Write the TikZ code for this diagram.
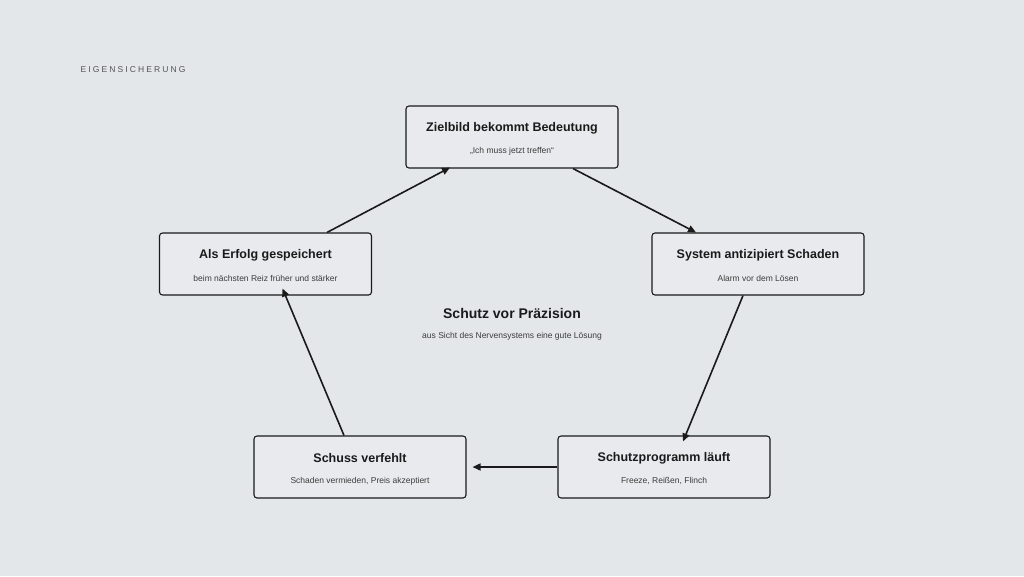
\documentclass[tikz,border=0pt]{standalone}
\usepackage{fontspec}
\setmainfont{Liberation Sans}
\usetikzlibrary{calc,arrows.meta}
\definecolor{bg}{HTML}{E4E7EA}
\definecolor{boxfill}{HTML}{E8EAED}
\definecolor{ink}{HTML}{1A1A1A}
\begin{document}
\begin{tikzpicture}[x=1pt,y=-1pt,
  box/.style={draw=ink,line width=1.1pt,fill=boxfill,rounded corners=3pt,minimum width=212pt,minimum height=62pt,inner sep=0pt},
  ttl/.style={font=\bfseries\fontsize{12.5}{14}\selectfont,text=ink},
  sub/.style={font=\fontsize{8.5}{10}\selectfont,text=ink!85},
  arr/.style={draw=ink,line width=1.6pt,-{Triangle[length=8pt,width=7pt]}}]
\fill[bg] (0,0) rectangle (1024,576);
\useasboundingbox (0,0) rectangle (1024,576);
\node[anchor=west,font=\fontsize{8.5}{10}\selectfont,text=ink!75] (hd) at (77,70) {\addfontfeature{LetterSpace=25}EIGENSICHERUNG};
\node[box] (t) at (512,137) {};
\node[box] (r) at (758,264) {};
\node[box] (br) at (664,467) {};
\node[box] (bl) at (360,467) {};
\node[box] (l) at (265.5,264) {};
\foreach \n/\a/\b in {t/Zielbild bekommt Bedeutung/„Ich muss jetzt treffen“,r/System antizipiert Schaden/Alarm vor dem Lösen,br/Schutzprogramm läuft/{Freeze, Reißen, Flinch},bl/Schuss verfehlt/{Schaden vermieden, Preis akzeptiert},l/Als Erfolg gespeichert/beim nächsten Reiz früher und stärker}{
  \node[ttl] (\n t) at ($(\n)+(0,-9)$) {\a};
  \node[sub] (\n s) at ($(\n)+(0,14)$) {\b};
}
\node[font=\bfseries\fontsize{14}{16}\selectfont,text=ink] (c) at (512,313) {Schutz vor Präzision};
\node[sub] (cs) at (512,336) {aus Sicht des Nervensystems eine gute Lösung};
\draw[arr] ([xshift=61pt]t.south) -- ([xshift=-62pt]r.north);
\draw[arr] ([xshift=-15pt]r.south) -- ([xshift=19pt,yshift=-6pt]br.north);
\draw[arr] (br.west) -- ([xshift=6pt]bl.east);
\draw[arr] ([xshift=-16pt]bl.north) -- ([xshift=17pt,yshift=7pt]l.south);
\draw[arr] ([xshift=61.5pt]l.north) -- ([xshift=-62pt,yshift=1pt]t.south);
\end{tikzpicture}
\end{document}
